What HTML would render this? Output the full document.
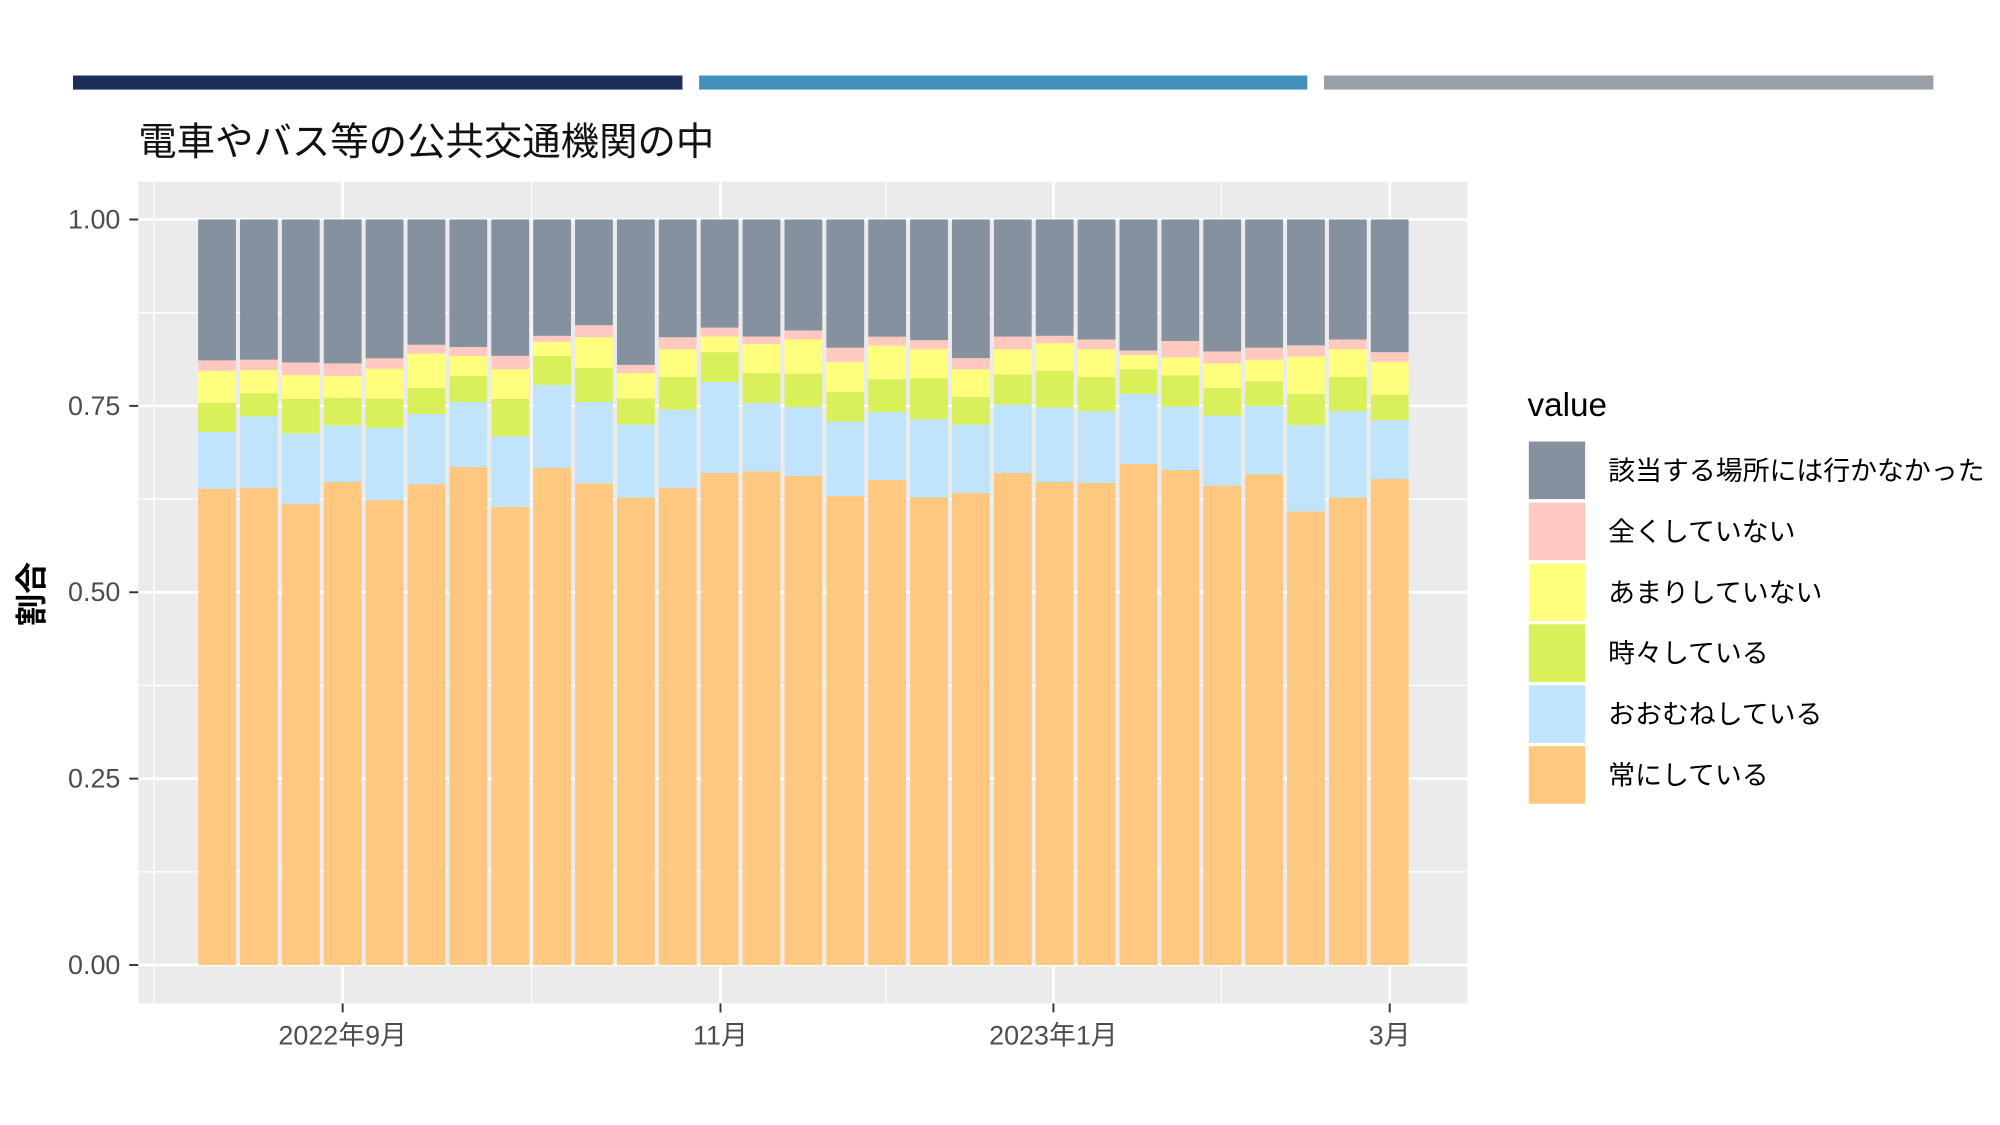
<!DOCTYPE html>
<html><head><meta charset="utf-8"><style>
html,body{margin:0;padding:0;background:#fff;}
svg{display:block;font-family:"Liberation Sans","Noto Sans CJK JP",sans-serif;}
</style></head><body>
<svg id="chart" width="2000" height="1125" viewBox="0 0 1562 879" preserveAspectRatio="none" xmlns="http://www.w3.org/2000/svg">
<rect x="57" y="59" width="476" height="11" fill="#1b2f5a"/>
<rect x="546" y="59" width="475" height="11" fill="#4490bd"/>
<rect x="1034" y="59" width="476" height="11" fill="#9aa0a7"/>
<text x="108" y="121" font-size="30" fill="#111">電車やバス等の公共交通機関の中</text>
<rect x="108" y="142" width="1038" height="642" fill="#ebebeb"/>
<g id="grid"></g>
<g id="bars"></g>
<g id="yaxis"></g>
<g id="xaxis"></g>
<text transform="translate(33,464) rotate(-90)" text-anchor="middle" font-size="25" font-weight="bold" fill="#000">割合</text>
<g id="legend"></g>
</svg>
<script>
const categories = ["該当する場所には行かなかった","全くしていない","あまりしていない","時々している","おおむねしている","常にしている"];
const colors = ["#85919e","#ffc9c0","#ffff7d","#d9f05a","#c0e4fc","#ffc880"];
const sGray   = [18.9,18.8,19.2,19.3,18.6,16.8,17.1,18.3,15.6,14.2,19.5,15.8,14.5,15.7,14.9,17.2,15.7,16.2,18.6,15.7,15.6,16.1,17.6,16.3,17.7,17.2,16.9,16.1,17.8];
const sPink   = [1.4,1.4,1.7,1.7,1.4,1.2,1.2,1.8,0.8,1.6,1.1,1.6,1.2,1.0,1.2,1.9,1.2,1.2,1.5,1.7,1.0,1.3,0.6,2.2,1.6,1.6,1.5,1.3,1.3];
const sYellow = [4.3,3.1,3.2,2.9,4.0,4.6,2.7,4.0,1.9,4.1,3.4,3.7,2.1,3.9,4.6,4.0,4.5,3.9,3.7,3.4,3.7,3.7,1.9,2.4,3.3,2.9,5.0,3.7,4.4];
const sGreen  = [3.9,3.1,4.6,3.7,3.9,3.5,3.5,5.0,3.9,4.6,3.5,4.4,4.0,4.0,4.5,4.0,4.4,5.5,3.7,4.0,4.9,4.6,3.3,4.2,3.7,3.3,4.2,4.6,3.4];
const sBlue   = [7.6,9.6,9.5,7.6,9.7,9.4,8.7,9.5,11.1,10.9,9.8,10.5,12.2,9.2,9.2,10.0,9.1,10.5,9.2,9.2,10.0,9.6,9.4,8.5,9.4,9.2,11.6,11.6,7.9];
const sOrange = [63.9,64.0,61.9,64.8,62.3,64.5,66.8,61.5,66.7,64.7,62.7,64.0,66.0,66.2,65.7,62.9,65.0,62.8,63.3,66.0,64.8,64.7,67.3,66.4,64.3,65.8,60.9,62.7,65.2];
const yTicks = [0,0.25,0.5,0.75,1.0];
const yTickLabels = ["0.00","0.25","0.50","0.75","1.00"];
const xTickPos = [3,12.02,19.97,28];
const xTickLabels = ["2022年9月","11月","2023年1月","3月"];
const xMinorPos = [-1.51,7.51,15.98,23.98];

const NS="http://www.w3.org/2000/svg";
const series=[sGray,sPink,sYellow,sGreen,sBlue,sOrange];
const n=sGray.length;
const y0=754, y1=171.5;
const ys=v=>y0-(y0-y1)*v;
const x0=169.5, pitch=32.71, bw=29.5;
const xs=i=>x0+pitch*i;
function mk(tag,attrs,parent){const e=document.createElementNS(NS,tag);for(const k in attrs)e.setAttribute(k,attrs[k]);parent.appendChild(e);return e;}
const grid=document.getElementById('grid');
for(let k=0;k<yTicks.length-1;k++){
  const l=mk('line',{x1:108,x2:1146,y1:ys((yTicks[k]+yTicks[k+1])/2),y2:ys((yTicks[k]+yTicks[k+1])/2),stroke:'#fff','stroke-width':1},grid);
  
  
}
yTicks.forEach(v=>{
  const l=mk('line',{x1:108,x2:1146,y1:ys(v),y2:ys(v),stroke:'#fff','stroke-width':2},grid);
  
  
});
xMinorPos.forEach(p=>{
  const l=mk('line',{x1:xs(p),x2:xs(p),y1:142,y2:784,stroke:'#fff','stroke-width':1},grid);
  
  
});
xTickPos.forEach(p=>{
  const l=mk('line',{x1:xs(p),x2:xs(p),y1:142,y2:784,stroke:'#fff','stroke-width':2},grid);
  
  
});
const bars=document.getElementById('bars');
for(let i=0;i<n;i++){
  let tot=0;series.forEach(s=>tot+=s[i]);
  let cum=0;
  for(let c=series.length-1;c>=0;c--){
    const v=series[c][i]/tot;
    const top=ys(cum+v), bot=ys(cum);
    const r=mk('rect',{x:xs(i)-bw/2,y:top,width:bw,height:bot-top,fill:colors[c]},bars);
    
    
    cum+=v;
  }
}
const ya=document.getElementById('yaxis');
yTicks.forEach((v,k)=>{
  const t=mk('line',{x1:101,x2:108,y1:ys(v),y2:ys(v),stroke:'#333','stroke-width':1.5},ya);
  
  
  const tx=mk('text',{x:94,y:ys(v)+7,'text-anchor':'end','font-size':21,fill:'#4d4d4d'},ya);
  tx.textContent=yTickLabels[k];
  
  
});
const xa=document.getElementById('xaxis');
xTickPos.forEach((p,k)=>{
  const t=mk('line',{x1:xs(p),x2:xs(p),y1:784,y2:791,stroke:'#333','stroke-width':1.5},xa);
  
  
  const tx=mk('text',{x:xs(p),y:816,'text-anchor':'middle','font-size':21,fill:'#4d4d4d'},xa);
  tx.textContent=xTickLabels[k];
  
  
});
const lg=document.getElementById('legend');
const lt=mk('text',{x:1193,y:325,'font-size':26,fill:'#000'},lg);
lt.textContent='value';


categories.forEach((c,k)=>{
  const yy=345+k*47.6;
  const r=mk('rect',{x:1194,y:yy,width:44,height:45,fill:colors[k]},lg);
  
  
  const t=mk('text',{x:1256,y:yy+30,'font-size':21,fill:'#000'},lg);
  t.textContent=c;
  
  
});
</script>
</body></html>
